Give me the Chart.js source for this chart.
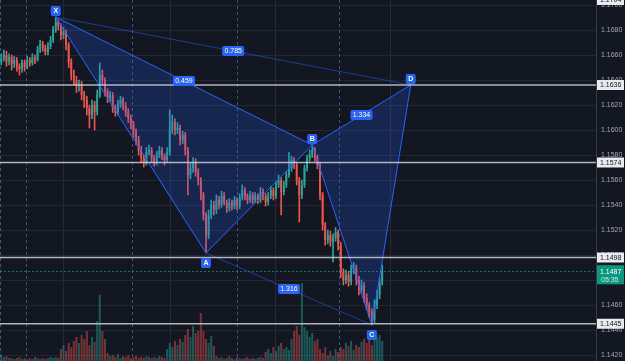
<!DOCTYPE html>
<html><head><meta charset="utf-8">
<script src="https://cdn.jsdelivr.net/npm/chart.js@4.4.1/dist/chart.umd.min.js"></script>
<style>html,body{margin:0;padding:0;background:#131722;overflow:hidden}#wrap{width:625px;height:361px;position:relative}</style>
</head><body><div id="wrap"><canvas id="c"></canvas></div>
<script>
// ---- data ----
const opens = [
1.16550,1.16576,1.16600,1.16544,1.16584,1.16528,1.16560,1.16512,1.16488,1.16536,
1.16504,1.16560,1.16536,1.16576,1.16560,1.16640,1.16688,1.16656,1.16624,1.16672,
1.16720,1.16800,1.16864,1.16832,1.16760,1.16784,1.16680,1.16544,1.16440,1.16400,
1.16352,1.16368,1.16280,1.16240,1.16176,1.16120,1.16200,1.16144,1.16280,1.16440,
1.16400,1.16304,1.16256,1.16280,1.16176,1.16144,1.16208,1.16240,1.16192,1.16144,
1.16096,1.16048,1.15984,1.15920,1.15840,1.15776,1.15736,1.15824,1.15840,1.15776,
1.15744,1.15800,1.15840,1.15792,1.15760,1.15824,1.16000,1.16064,1.16000,1.16016,
1.15920,1.15960,1.15840,1.15640,1.15696,1.15744,1.15664,1.15600,1.15480,1.15320,
1.15160,1.15320,1.15400,1.15360,1.15440,1.15400,1.15472,1.15424,1.15376,1.15416,
1.15392,1.15440,1.15392,1.15456,1.15520,1.15472,1.15440,1.15480,1.15440,1.15472,
1.15440,1.15504,1.15472,1.15424,1.15472,1.15520,1.15472,1.15560,1.15600,1.15504,
1.15560,1.15640,1.15696,1.15760,1.15720,1.15600,1.15480,1.15560,1.15696,1.15776,
1.15800,1.15840,1.15776,1.15720,1.15480,1.15240,1.15120,1.15160,1.15104,1.15136,
1.15184,1.15080,1.14864,1.14800,1.14840,1.14784,1.14880,1.14896,1.14800,1.14720,
1.14760,1.14656,1.14600,1.14544,1.14480,1.14600,1.14680,1.14784];
const highs = [
1.16610,1.16640,1.16630,1.16610,1.16600,1.16590,1.16580,1.16530,1.16560,1.16560,
1.16590,1.16580,1.16610,1.16600,1.16670,1.16720,1.16710,1.16680,1.16700,1.16750,
1.16830,1.16904,1.16880,1.16850,1.16820,1.16800,1.16700,1.16570,1.16480,1.16430,
1.16400,1.16390,1.16310,1.16270,1.16200,1.16240,1.16230,1.16320,1.16536,1.16480,
1.16420,1.16330,1.16310,1.16300,1.16200,1.16240,1.16270,1.16260,1.16220,1.16170,
1.16120,1.16070,1.16010,1.15950,1.15870,1.15800,1.15860,1.15880,1.15860,1.15800,
1.15830,1.15870,1.15860,1.15810,1.15860,1.16160,1.16120,1.16090,1.16060,1.16040,
1.15990,1.15980,1.15860,1.15740,1.15780,1.15770,1.15690,1.15620,1.15500,1.15340,
1.15360,1.15440,1.15430,1.15480,1.15470,1.15510,1.15500,1.15440,1.15450,1.15440,
1.15470,1.15460,1.15490,1.15560,1.15540,1.15490,1.15510,1.15500,1.15500,1.15490,
1.15540,1.15530,1.15490,1.15500,1.15550,1.15540,1.15590,1.15640,1.15620,1.15590,
1.15670,1.15820,1.15790,1.15780,1.15740,1.15620,1.15600,1.15720,1.15800,1.15840,
1.15880,1.15860,1.15800,1.15740,1.15500,1.15260,1.15200,1.15190,1.15170,1.15220,
1.15200,1.15100,1.14890,1.14880,1.14870,1.14920,1.14940,1.14920,1.14830,1.14800,
1.14780,1.14690,1.14620,1.14570,1.14640,1.14720,1.14820,1.14920];
const lows = [
1.16520,1.16550,1.16510,1.16520,1.16480,1.16500,1.16470,1.16440,1.16460,1.16470,
1.16490,1.16510,1.16520,1.16530,1.16550,1.16620,1.16630,1.16600,1.16600,1.16650,
1.16700,1.16780,1.16800,1.16720,1.16730,1.16640,1.16500,1.16400,1.16360,1.16300,
1.16310,1.16240,1.16180,1.16120,1.16016,1.16090,1.16000,1.16120,1.16260,1.16360,
1.16270,1.16220,1.16230,1.16140,1.16110,1.16120,1.16180,1.16160,1.16110,1.16060,
1.16010,1.15940,1.15880,1.15800,1.15740,1.15704,1.15720,1.15800,1.15740,1.15710,
1.15720,1.15780,1.15760,1.15720,1.15740,1.15800,1.15970,1.15960,1.15970,1.15880,
1.15890,1.15800,1.15480,1.15610,1.15660,1.15630,1.15560,1.15440,1.15280,1.15016,
1.15130,1.15290,1.15320,1.15330,1.15370,1.15380,1.15400,1.15340,1.15350,1.15360,
1.15370,1.15360,1.15370,1.15440,1.15440,1.15410,1.15420,1.15410,1.15420,1.15410,
1.15420,1.15440,1.15390,1.15400,1.15450,1.15440,1.15450,1.15540,1.15320,1.15480,
1.15540,1.15620,1.15670,1.15690,1.15560,1.15264,1.15450,1.15540,1.15670,1.15750,
1.15780,1.15750,1.15690,1.15440,1.15200,1.15080,1.15090,1.15070,1.14944,1.15110,
1.15040,1.14820,1.14760,1.14770,1.14750,1.14760,1.14850,1.14760,1.14680,1.14690,
1.14620,1.14560,1.14500,1.14440,1.14460,1.14570,1.14650,1.14760];
const closes = [
1.16576,1.16600,1.16544,1.16584,1.16528,1.16560,1.16512,1.16488,1.16536,1.16504,
1.16560,1.16536,1.16576,1.16560,1.16640,1.16688,1.16656,1.16624,1.16672,1.16720,
1.16800,1.16864,1.16832,1.16760,1.16784,1.16680,1.16544,1.16440,1.16400,1.16352,
1.16368,1.16280,1.16240,1.16176,1.16120,1.16200,1.16144,1.16280,1.16440,1.16400,
1.16304,1.16256,1.16280,1.16176,1.16144,1.16208,1.16240,1.16192,1.16144,1.16096,
1.16048,1.15984,1.15920,1.15840,1.15776,1.15736,1.15824,1.15840,1.15776,1.15744,
1.15800,1.15840,1.15792,1.15760,1.15824,1.16000,1.16064,1.16000,1.16016,1.15920,
1.15960,1.15840,1.15640,1.15696,1.15744,1.15664,1.15600,1.15480,1.15320,1.15160,
1.15320,1.15400,1.15360,1.15440,1.15400,1.15472,1.15424,1.15376,1.15416,1.15392,
1.15440,1.15392,1.15456,1.15520,1.15472,1.15440,1.15480,1.15440,1.15472,1.15440,
1.15504,1.15472,1.15424,1.15472,1.15520,1.15472,1.15560,1.15600,1.15504,1.15560,
1.15640,1.15696,1.15760,1.15720,1.15600,1.15480,1.15560,1.15696,1.15776,1.15800,
1.15840,1.15776,1.15720,1.15480,1.15240,1.15120,1.15160,1.15104,1.15136,1.15184,
1.15080,1.14864,1.14800,1.14840,1.14784,1.14880,1.14896,1.14800,1.14720,1.14760,
1.14656,1.14600,1.14544,1.14480,1.14600,1.14680,1.14784,1.14870];
const volumes = [
6,4,5,3,3,2,3,4,2,3,
2,3,2,4,3,2,3,2,3,4,
3,4,3,12,16,10,18,14,20,24,
18,26,22,30,16,24,19,40,66,30,
22,8,5,6,4,7,3,5,4,6,
3,4,5,3,4,3,5,4,3,4,
3,5,4,3,12,18,14,20,16,22,
19,26,32,24,35,28,30,48,30,22,
18,25,15,5,3,4,2,3,5,3,
2,4,3,2,3,4,2,3,2,3,
4,3,9,12,8,14,10,15,18,12,
14,11,22,30,35,26,78,34,30,24,
28,20,22,12,8,14,6,10,5,12,
9,14,12,18,15,20,11,16,14,19,
22,18,28,16,30,24,26,20];
const totalSlots = 230;              // candle slots incl. empty future space
const yTicks = [1.1420,1.1440,1.1460,1.1480,1.1500,1.1520,1.1540,1.1560,1.1580,1.1600,1.1620,1.1640,1.1660,1.1680,1.1700];
const levelPrices = [1.1636, 1.1574, 1.1498, 1.1445];
const topPriceTag = 1.1704;
const lastPrice = 1.1487;
const lastTimeText = '05:35';
const dayBreaks = [9.5, 50.5, 91, 130.5];     // session separators (candle index)
const hourBreaks = [24, 65, 105.5, 150];      // time grid (candle index)
const patternNames = ['X','A','B','C','D'];
const patternIdx = [21, 79, 120, 143, 158];
const patternPrice = [1.16904, 1.15016, 1.15880, 1.14440, 1.16360];
const ratioPairs = [[0,2],[1,3],[2,4],[0,4]];
const ratioTexts = ['0.459','1.316','1.334','0.785'];

// ---- styling ----
const UP = '#26a69a', DOWN = '#ef5350';
const BLUE = '#2962ff';
const FONT = '"Liberation Sans", Arial, sans-serif';
Chart.defaults.font.family = FONT;
const isUp = i => closes[i] >= opens[i];
const labels = Array.from({length: totalSlots}, (_, i) => i);
const P = k => ({x: patternIdx[k], y: patternPrice[k]});

function rbox(ctx, x, y, w, h, r) {
  ctx.beginPath();
  if (ctx.roundRect) ctx.roundRect(x, y, w, h, r); else ctx.rect(x, y, w, h);
  ctx.fill();
}
function noPad(s) { s.paddingTop = 0; s.paddingBottom = 0; s.paddingLeft = 0; s.paddingRight = 0; }

const overlay = {
  id: 'overlay',
  beforeDatasetsDraw(chart) {
    const {ctx, chartArea: a, scales: {x}} = chart;
    ctx.save();
    ctx.lineWidth = 1;
    ctx.strokeStyle = 'rgba(42,46,57,0.8)';
    hourBreaks.forEach(v => {
      const px = Math.round(x.getPixelForValue(v)) + 0.5;
      ctx.beginPath(); ctx.moveTo(px, a.top); ctx.lineTo(px, a.bottom); ctx.stroke();
    });
    ctx.strokeStyle = 'rgba(74,96,140,0.8)'; ctx.setLineDash([3, 3]);
    [0, ...dayBreaks].forEach(v => {
      const px = v === 0 ? a.left + 0.5 : Math.round(x.getPixelForValue(v)) + 0.5;
      ctx.beginPath(); ctx.moveTo(px, a.top); ctx.lineTo(px, a.bottom); ctx.stroke();
    });
    ctx.restore();
  },
  afterDatasetsDraw(chart) {
    const {ctx, chartArea: a, scales: {x, y}} = chart;
    ctx.save();
    const yl = Math.round(y.getPixelForValue(lastPrice)) + 0.5;
    ctx.strokeStyle = 'rgba(38,166,154,0.6)'; ctx.lineWidth = 1; ctx.setLineDash([2, 2]);
    ctx.beginPath(); ctx.moveTo(a.left, yl); ctx.lineTo(a.right, yl); ctx.stroke();
    ctx.setLineDash([]);
    ctx.strokeStyle = 'rgba(205,208,216,0.85)'; ctx.lineWidth = 1.5;
    levelPrices.forEach(v => {
      const py = y.getPixelForValue(v);
      ctx.beginPath(); ctx.moveTo(a.left, py); ctx.lineTo(a.right, py); ctx.stroke();
    });
    ctx.font = '7px ' + FONT; ctx.textAlign = 'center'; ctx.textBaseline = 'middle';
    ratioPairs.forEach(([p, q], k) => {
      const mx = (x.getPixelForValue(patternIdx[p]) + x.getPixelForValue(patternIdx[q])) / 2;
      const my = (y.getPixelForValue(patternPrice[p]) + y.getPixelForValue(patternPrice[q])) / 2;
      ctx.fillStyle = BLUE; rbox(ctx, mx - 11, my - 5, 22, 10, 2);
      ctx.fillStyle = '#ffffff'; ctx.fillText(ratioTexts[k], mx, my + 0.5);
    });
    ctx.font = 'bold 7px ' + FONT;
    patternNames.forEach((n, k) => {
      const px = x.getPixelForValue(patternIdx[k]);
      const py = y.getPixelForValue(patternPrice[k]);
      const above = k % 2 === 0;
      const top = above ? py - 11 : py + 5;
      ctx.fillStyle = BLUE; rbox(ctx, px - 5, top, 10, 10, 2);
      ctx.fillStyle = '#ffffff'; ctx.fillText(n, px, top + 5.5);
    });
    ctx.restore();
  },
  afterDraw(chart) {
    const {ctx, chartArea: a, scales: {y}} = chart;
    ctx.save();
    ctx.font = '7px ' + FONT; ctx.textAlign = 'left'; ctx.textBaseline = 'middle';
    const bx = a.right + 1, bw = chart.width - a.right - 2;
    [...levelPrices, topPriceTag].forEach(v => {
      const py = y.getPixelForValue(v);
      ctx.fillStyle = '#e9ebef'; ctx.fillRect(bx, py - 5, bw, 10);
      ctx.fillStyle = '#131722'; ctx.fillText(v.toFixed(4), bx + 3, py + 0.5);
    });
    const pl = y.getPixelForValue(lastPrice);
    ctx.fillStyle = '#089981'; ctx.fillRect(bx, pl - 6, bw, 19);
    ctx.fillStyle = '#ffffff'; ctx.fillText(lastPrice.toFixed(4), bx + 3, pl + 0.5);
    ctx.fillStyle = 'rgba(255,255,255,0.8)'; ctx.fillText(lastTimeText, bx + 4, pl + 8.5);
    ctx.restore();
  }
};

new Chart(document.getElementById('c'), {
  type: 'bar',
  data: {
    labels,
    datasets: [
      {type: 'line', data: [P(0), P(2)], borderColor: BLUE, borderWidth: 1, pointRadius: 0, fill: false, order: 1},
      {type: 'line', data: [P(0), P(1), P(2)], borderColor: BLUE, borderWidth: 1, pointRadius: 0, fill: '-1', backgroundColor: 'rgba(41,98,255,0.2)', order: 1},
      {type: 'line', data: [P(2), P(4)], borderColor: BLUE, borderWidth: 1, pointRadius: 0, fill: false, order: 1},
      {type: 'line', data: [P(2), P(3), P(4)], borderColor: BLUE, borderWidth: 1, pointRadius: 0, fill: '-1', backgroundColor: 'rgba(41,98,255,0.2)', order: 1},
      {type: 'line', data: [P(0), P(4)], borderColor: 'rgba(41,98,255,0.5)', borderWidth: 1, pointRadius: 0, fill: false, order: 1},
      {type: 'line', data: [P(1), P(3)], borderColor: 'rgba(41,98,255,0.5)', borderWidth: 1, pointRadius: 0, fill: false, order: 1},
      {data: opens.map((o, i) => [o, closes[i]]), grouped: false, categoryPercentage: 1, barPercentage: 0.72, minBarLength: 1,
       backgroundColor: c => isUp(c.dataIndex) ? UP : DOWN, order: 4},
      {data: highs.map((h, i) => [lows[i], h]), grouped: false, barThickness: 1,
       backgroundColor: c => isUp(c.dataIndex) ? UP : DOWN, order: 5},
      {data: volumes, yAxisID: 'yv', grouped: false, categoryPercentage: 1, barPercentage: 0.8,
       backgroundColor: c => isUp(c.dataIndex) ? 'rgba(38,166,154,0.45)' : 'rgba(239,83,80,0.45)', order: 6}
    ]
  },
  options: {
    responsive: true, maintainAspectRatio: false, animation: false,
    layout: {padding: 0},
    plugins: {legend: {display: false}, tooltip: {enabled: false}},
    scales: {
      x: {type: 'category', display: false},
      y: {type: 'linear', position: 'right', min: 1.14152, max: 1.1704,
          afterBuildTicks: s => { s.ticks = yTicks.map(v => ({value: v})); },
          ticks: {color: '#a3a6af', font: {size: 7, family: FONT}, padding: 5, callback: v => Number(v).toFixed(4)},
          grid: {color: 'rgba(42,46,57,0.7)', drawTicks: false},
          border: {display: true, color: 'rgba(60,64,76,0.9)'},
          afterFit: s => { s.width = 29; noPad(s); }},
      yv: {type: 'linear', display: false, min: 0, max: 361}
    }
  },
  plugins: [overlay]
});
</script>
</body></html>
